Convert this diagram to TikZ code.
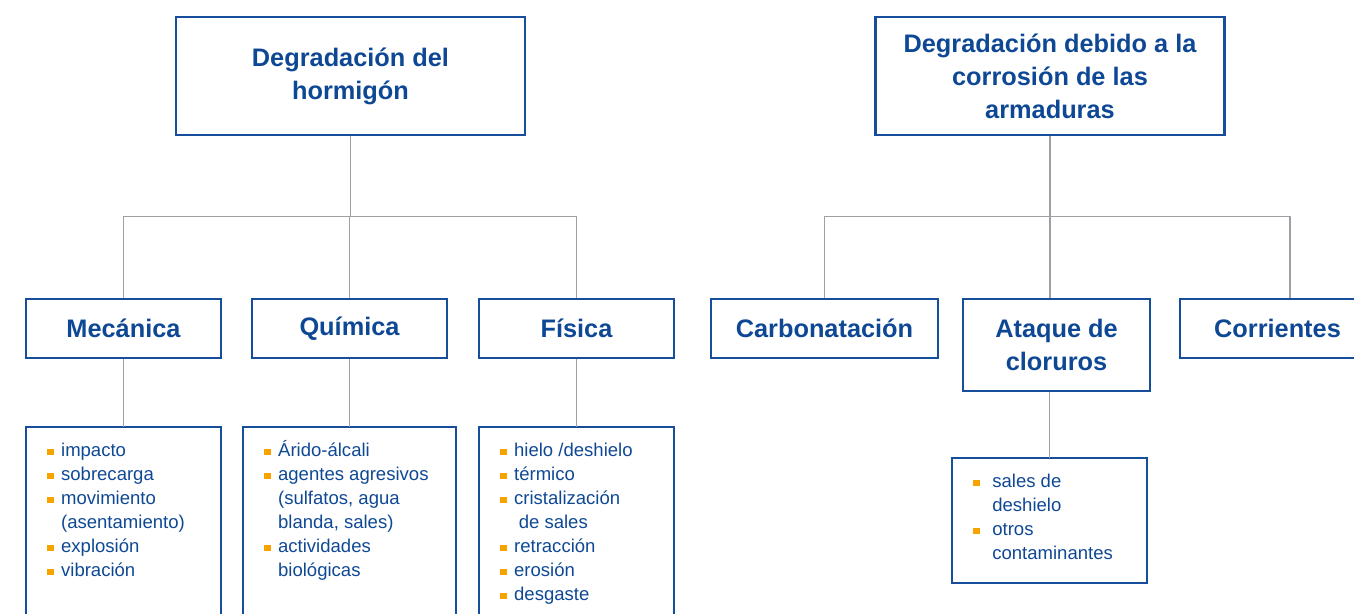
\documentclass[tikz,border=0pt]{standalone}
\usepackage{fontspec}
\setmainfont{Liberation Sans}
\usetikzlibrary{positioning}

\definecolor{boxblue}{RGB}{22,78,155}
\definecolor{txtblue}{RGB}{14,72,148}
\definecolor{bulorange}{RGB}{246,163,0}
\definecolor{linegray}{RGB}{158,160,165}

\newcommand{\bul}{\textcolor{bulorange}{\rule[0.08em]{0.36em}{0.36em}}}
\newcommand{\itemlist}[4][5.6pt]{\parbox[t][#3][t]{#2}{\begin{tabular}{@{}l@{\hspace{#1}}l@{}}#4\end{tabular}}}

\begin{document}
\begin{tikzpicture}
  [x=0.75pt,y=-0.75pt,
   hd/.style={draw=boxblue,line width=1.9pt,text=txtblue,align=center,inner sep=0pt,
     font=\bfseries\fontsize{19}{24.75}\selectfont},
   lst/.style={draw=boxblue,line width=1.9pt,text=txtblue,anchor=north west,outer sep=0pt,
     inner xsep=15.75pt,inner ysep=9.75pt,font=\fontsize{13.9}{18}\selectfont},
   conn/.style={draw=linegray,line width=1pt}]
  \useasboundingbox (0,0) rectangle (1354,614);

  % top boxes
  \node (hl)[hd,minimum width=261.75pt,minimum height=88.5pt] at (350.5,76) {Degradación del\\hormigón};
  \node (hr)[hd,minimum width=261.75pt,minimum height=88.5pt] at (1050,76) {Degradación debido a la\\corrosión de las\\armaduras};

  % second level
  \node (mec)[hd,minimum width=146.25pt,minimum height=44.25pt] at (123.5,328.5) {Mecánica};
  \node (qui)[hd,minimum width=146.25pt,minimum height=44.25pt] at (349.5,328.5) {Química};
  \node (fis)[hd,minimum width=146.25pt,minimum height=44.25pt] at (576.5,328.5) {Física};
  \node (car)[hd,minimum width=170.25pt,minimum height=44.25pt] at (824.5,328.5) {Carbonatación};
  \node (ata)[hd,minimum width=140.25pt,minimum height=69pt] at (1056.5,345) {Ataque de\\cloruros};
  \node (cor)[hd,minimum width=146.25pt,minimum height=44.25pt] at (1277.5,328.5) {Corrientes};

  % lists
  \node (mecl)[lst] at (26,427) {\itemlist{114.75pt}{153pt}{%
    \bul & impacto\\
    \bul & sobrecarga\\
    \bul & movimiento\\
         & (asentamiento)\\
    \bul & explosión\\
    \bul & vibración}};
  \node (quil)[lst] at (243,427) {\itemlist{128.25pt}{153pt}{%
    \bul & Árido-álcali\\
    \bul & agentes agresivos\\
         & (sulfatos, agua\\
         & blanda, sales)\\
    \bul & actividades\\
         & biológicas}};
  \node (fisl)[lst] at (479,427) {\itemlist{114.75pt}{153pt}{%
    \bul & hielo /deshielo\\
    \bul & térmico\\
    \bul & cristalización\\
         & \hspace{3.5pt}de sales\\
    \bul & retracción\\
    \bul & erosión\\
    \bul & desgaste}};
  \node (sall)[lst] at (952,458) {\itemlist[9.5pt]{114.75pt}{74.25pt}{%
    \bul & sales de\\
         & deshielo\\
    \bul & otros\\
         & contaminantes}};

  % connectors
  \draw[conn] (hl.south) -- ++(0,80) coordinate (lbus);
  \foreach \to in {mec,qui,fis}
    \draw[conn] (lbus) -| (\to.north);
  \foreach \from/\to in {mec/mecl,qui/quil,fis/fisl}
    \draw[conn] (\from.south) -- (\from.south |- \to.north);

  \draw[conn] (hr.south) -- ++(0,80) coordinate (rbus);
  \draw[conn] (rbus) -| (car.north);
  \draw[conn] (rbus) -- (rbus |- ata.north);
  \draw[conn] (rbus) -| ([xshift=9.4pt]cor.north);
  \draw[conn] (ata.south -| sall.north) -- (sall.north);

\end{tikzpicture}
\end{document}
